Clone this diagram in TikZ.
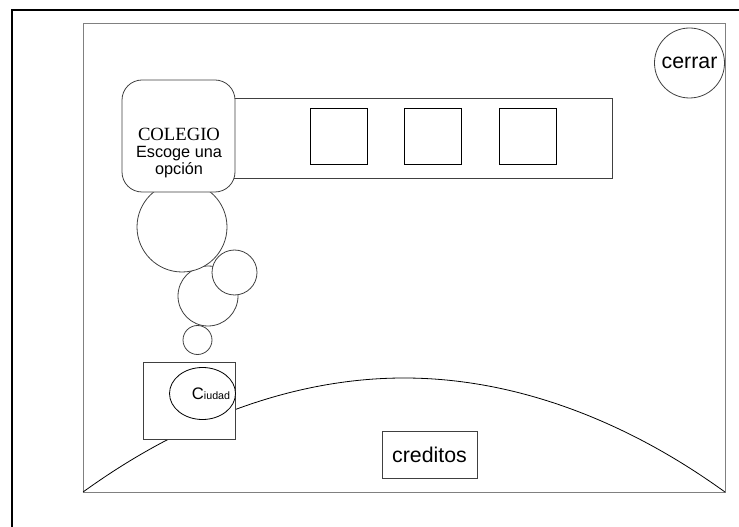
\documentclass[tikz,border=0pt]{standalone}
\usepackage{fontspec}
\setmainfont{Liberation Sans}
\newfontfamily\romana{Liberation Serif}
\usetikzlibrary{shapes.geometric}

\tikzset{
  linea/.style={draw=black!75, line width=0.6pt},
  tapa/.style={linea, fill=white},
  boton/.style={tapa, font=\fontsize{16}{18}\selectfont, inner sep=0pt}
}

\begin{document}
\begin{tikzpicture}[x=0.75pt, y=-0.75pt]
 \useasboundingbox (0,0) rectangle (739,527);
 \clip (0,0) rectangle (739,527);
 % hoja y pantalla
 \draw [line width=1.5pt] (12,10) rectangle (760,560);
 \draw [linea, draw=black!50] (83,23) rectangle (725,492);
 \draw [linea, draw=black] (83,492) parabola bend (404,378) (725,492);
 % barra de opciones
 \draw [linea] (150,98) rectangle (612,178);
 \foreach \x in {310,404.5,499}
  \draw [linea, draw=black] (\x,108) rectangle ++(57,56);
 % burbujas
 \draw [tapa] (208,296) circle [radius=30];
 \draw [tapa] (182,227) circle [radius=45];
 \draw [tapa] (234.5,272.5) circle [radius=22.5];
 \draw [tapa] (197.5,340) circle [radius=14.5];
 \node [tapa, rounded corners=15pt, minimum width=84.75pt, minimum height=84pt]
   (colegio) at (178.5,136) {};
 \node [align=center, font=\fontsize{12.2}{13}\selectfont, inner sep=0pt]
   (colegiotxt) at (179,153)
   {{\romana\fontsize{14}{15}\selectfont COLEGIO}\\Escoge una\\opción};
 % ciudad
 \draw [tapa] (143,362) rectangle (235,439);
 \draw [tapa, draw=black] (202.5,393.5) ellipse [x radius=33, y radius=26];
 \node [inner sep=0pt] (ciudad) at (211,393.5)
   {\fontsize{12.5}{13}\selectfont C\fontsize{8}{9}\selectfont iudad};
 % botones
 \node [boton, circle, minimum size=52.5pt] (cerrar) at (689.5,63) {cerrar};
 \node [boton, minimum width=71.25pt, minimum height=35.25pt]
   (creditos) at (429.5,454.5) {creditos};
\end{tikzpicture}
\end{document}
